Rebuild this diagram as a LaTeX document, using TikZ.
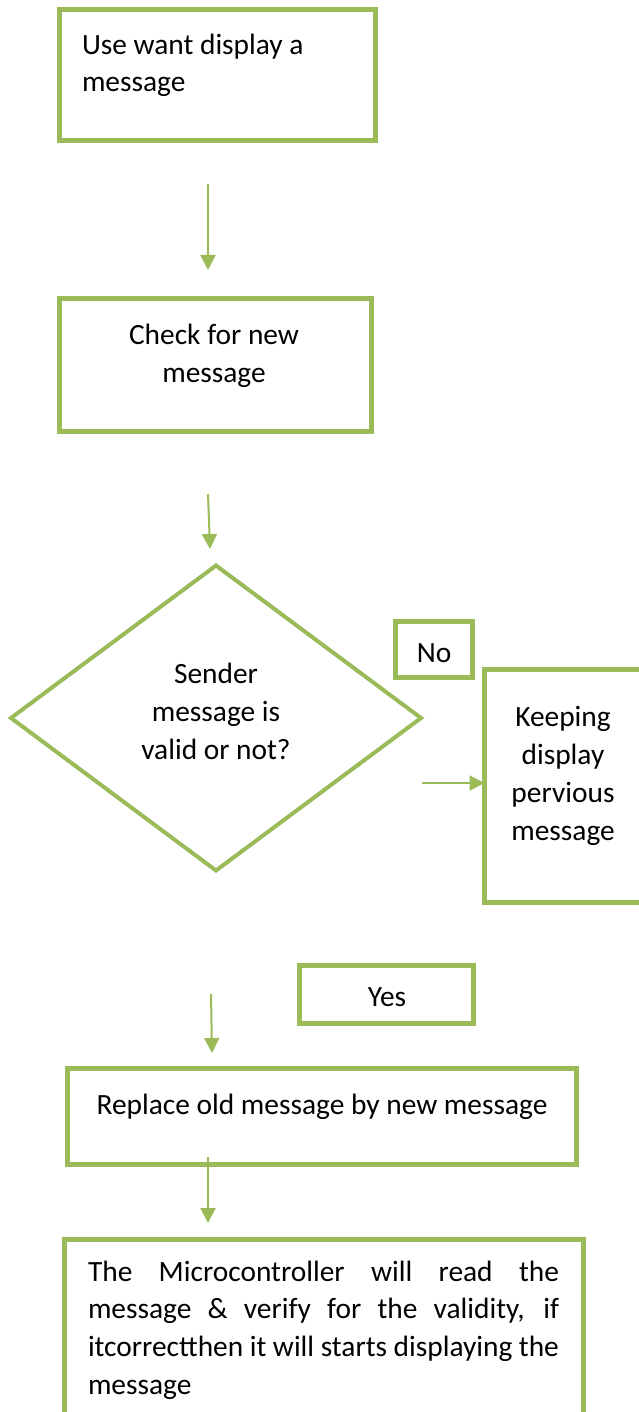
\documentclass[tikz,border=0pt]{standalone}
\usepackage{fontspec}
\setmainfont{Carlito}
\usetikzlibrary{shapes.geometric,arrows.meta}
\definecolor{og}{HTML}{9BBB59}
\begin{document}
\begin{tikzpicture}[x=1pt,y=-1pt,
  box/.style={draw=og,line width=5pt,rectangle,inner sep=0pt,outer sep=0pt},
  dia/.style={draw=og,line width=4pt,diamond,inner sep=0pt,outer sep=0pt},
  txt/.style={font=\fontsize{29.4}{37.7}\selectfont,inner sep=0pt,outer sep=0pt},
  flow/.style={draw=og,line width=2pt,-{Triangle[width=15pt,length=15pt]}}]
\useasboundingbox (0,0) rectangle (639,1412);
\clip (0,0) rectangle (639,1412);
% boxes
\node[box,minimum width=316pt,minimum height=131pt] (b1) at (217.5,75) {};
\node[box,minimum width=312pt,minimum height=133pt] (b2) at (215.5,365) {};
\node[dia,minimum width=410pt,minimum height=305pt] (d) at (216,718) {};
\node[box,minimum width=77pt,minimum height=56pt] (no) at (434,649.5) {};
\node[box,minimum width=215pt,minimum height=233pt] (keep) at (592,786) {};
\node[box,minimum width=174pt,minimum height=58pt] (yes) at (386.5,994.5) {};
\node[box,minimum width=509pt,minimum height=96pt] (rep) at (322,1116.5) {};
\node[box,minimum width=519pt,minimum height=200pt] (fin) at (324,1339.5) {};
% texts (base anchor of multi-line nodes = last line)
\node[txt,align=left,anchor=base west] (t1) at (82,92) {Use want display a\\message};
\node[txt,align=center,anchor=base] (t2) at (214,382) {Check for new\\message};
\node[txt,align=center,anchor=base] (t3) at (216,759) {Sender\\message is\\valid or not?};
\node[txt,anchor=base] (tno) at (434,662) {No};
\node[txt,align=center,anchor=base] (tkeep) at (563,840) {Keeping\\display\\pervious\\message};
\node[txt,anchor=base] (tyes) at (387,1006) {Yes};
\node[txt,anchor=base] (trep) at (322,1114) {Replace old message by new message};
\node[txt,text width=471pt,align=justify,anchor=base west] (tfin) at (88,1281)
  {\hyphenpenalty=10000 The Microcontroller will read the\linebreak message \& verify for the validity, if\linebreak itcorrectthen it will starts displaying the\linebreak message};
% connectors
\coordinate (a1s) at (208,184); \coordinate (a1e) at (208,270);
\coordinate (a2s) at (208,494); \coordinate (a2e) at (210,549);
\coordinate (a3s) at (422,783);
\coordinate (a4s) at (211,994); \coordinate (a4e) at (212,1053);
\coordinate (a5s) at (208,1157); \coordinate (a5e) at (208,1223);
\draw[flow] (a1s) -- (a1e);
\draw[flow] (a2s) -- (a2e);
\draw[flow] (a3s) -- (a3s -| keep.west);
\draw[flow] (a4s) -- (a4e);
\draw[flow] (a5s) -- (a5e);
\end{tikzpicture}
\end{document}
